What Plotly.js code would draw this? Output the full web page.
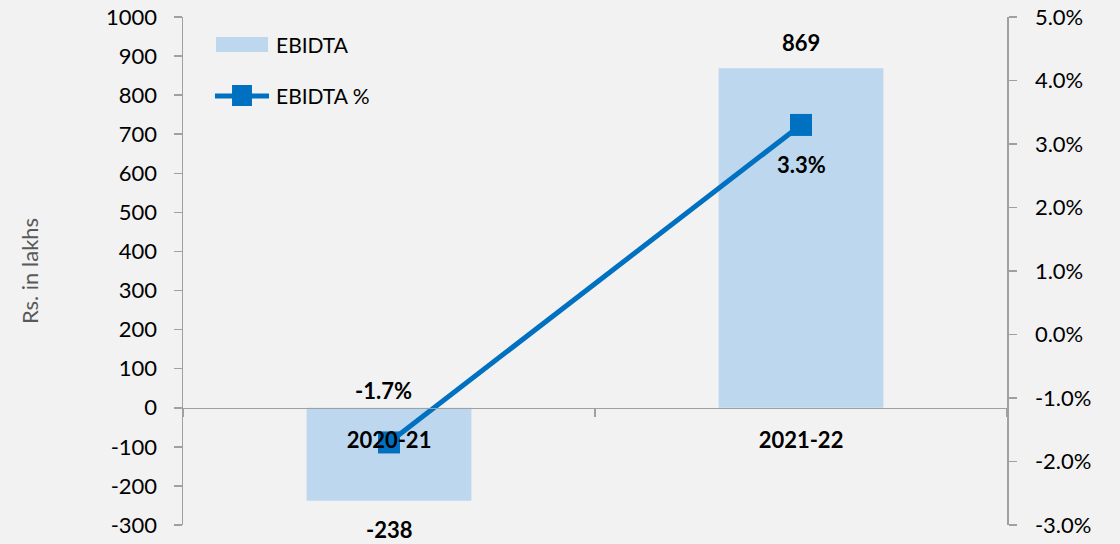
<!DOCTYPE html>
<html>
<head>
<meta charset="utf-8">
<script src="https://cdn.plot.ly/plotly-3.0.1.min.js"></script>
<style>
html,body{margin:0;padding:0;background:#F2F2F2;}
#chart{width:1120px;height:544px;}
</style>
</head>
<body>
<div id="chart"></div>
<script>
var categories = ["2020-21", "2021-22"];
var ebidta = [-238, 869];
var ebidtaPct = [-0.017, 0.033];
var ebidtaLabels = ["-238", "869"];
var pctLabels = ["-1.7%", "3.3%"];
var seriesNames = ["EBIDTA", "EBIDTA %"];
var leftTickVals = [-300, -200, -100, 0, 100, 200, 300, 400, 500, 600, 700, 800, 900, 1000];
var leftTickText = ["-300", "-200", "-100", "0", "100", "200", "300", "400", "500", "600", "700", "800", "900", "1000"];
var rightTickVals = [-0.03, -0.02, -0.01, 0, 0.01, 0.02, 0.03, 0.04, 0.05];
var rightTickText = ["-3.0%", "-2.0%", "-1.0%", "0.0%", "1.0%", "2.0%", "3.0%", "4.0%", "5.0%"];

var FONT = "Lato, 'Open Sans', sans-serif";
var axisGray = "#A0A0A0";

var barTrace = {
  type: "bar",
  x: categories,
  y: ebidta,
  name: seriesNames[0],
  width: 0.4,
  marker: {color: "#BDD7EE"},
  hoverinfo: "skip",
  showlegend: false
};
var lineTrace = {
  type: "scatter",
  mode: "lines+markers",
  x: categories,
  y: ebidtaPct,
  yaxis: "y2",
  name: seriesNames[1],
  line: {color: "#0070C0", width: 5},
  marker: {symbol: "square", size: 22, color: "#0070C0"},
  hoverinfo: "skip",
  showlegend: false
};

var annotations = [];
for (var i = 0; i < categories.length; i++) {
  annotations.push({
    x: categories[i], y: ebidta[i], xref: "x", yref: "y",
    text: ebidtaLabels[i], showarrow: false,
    yshift: ebidta[i] >= 0 ? 26 : -29,
    font: {family: FONT, size: 22, color: "#000", weight: "bold"}
  });
}
annotations.push({
  x: categories[0], y: ebidtaPct[0], xref: "x", yref: "y2",
  text: pctLabels[0], showarrow: false, yshift: 52, xshift: -6,
  font: {family: FONT, size: 22, color: "#000", weight: "bold"}
});
annotations.push({
  x: categories[1], y: ebidtaPct[1], xref: "x", yref: "y2",
  text: pctLabels[1], showarrow: false, yshift: -40,
  font: {family: FONT, size: 22, color: "#000", weight: "bold"}
});
// legend text
annotations.push({
  x: 0.1104, y: 0.9449, xref: "paper", yref: "paper", xanchor: "left", yanchor: "middle",
  text: seriesNames[0], showarrow: false,
  font: {family: FONT, size: 21, color: "#000"}
});
annotations.push({
  x: 0.1104, y: 0.8445, xref: "paper", yref: "paper", xanchor: "left", yanchor: "middle",
  text: seriesNames[1], showarrow: false,
  font: {family: FONT, size: 21, color: "#000"}
});

var shapes = [
  {type: "rect", xref: "paper", yref: "paper", x0: 0.0400, x1: 0.1032, y0: 0.9311, y1: 0.9606,
   fillcolor: "#BDD7EE", line: {width: 0}},
  {type: "line", xref: "paper", yref: "paper", x0: 0.0388, x1: 0.1044, y0: 0.8445, y1: 0.8445,
   line: {color: "#0070C0", width: 5}},
  {type: "rect", xref: "paper", yref: "paper", x0: 0.0595, x1: 0.0837, y0: 0.8248, y1: 0.8661,
   fillcolor: "#0070C0", line: {width: 0}}
];

var layout = {
  width: 1120, height: 544,
  paper_bgcolor: "#F2F2F2", plot_bgcolor: "#F2F2F2",
  margin: {l: 183, r: 113, t: 17, b: 19},
  showlegend: false,
  font: {family: FONT, size: 22, color: "#000"},
  xaxis: {
    type: "category", range: [-0.5, 1.5],
    anchor: "free", position: 3/13,
    showline: true, linecolor: axisGray, linewidth: 1.5,
    ticks: "outside", tickson: "boundaries", ticklen: 8, tickcolor: axisGray, tickwidth: 1.5,
    ticklabelstandoff: 12,
    showgrid: false, zeroline: false,
    tickfont: {family: FONT, size: 22, color: "#000", weight: "bold"},
    fixedrange: true
  },
  yaxis: {
    range: [-300, 1000], tickmode: "array", tickvals: leftTickVals, ticktext: leftTickText,
    showline: true, linecolor: axisGray, linewidth: 1.5,
    ticks: "outside", ticklen: 8, tickcolor: axisGray, tickwidth: 1.5,
    ticklabelstandoff: 12,
    showgrid: false, zeroline: false,
    tickfont: {family: FONT, size: 22, color: "#000"},
    title: {text: "Rs. in lakhs", font: {family: FONT, size: 22, color: "#595959"}, standoff: 61},
    fixedrange: true
  },
  yaxis2: {
    overlaying: "y", side: "right", anchor: "x",
    range: [-0.03, 0.05], tickmode: "array", tickvals: rightTickVals, ticktext: rightTickText,
    showline: true, linecolor: axisGray, linewidth: 1.5,
    ticks: "outside", ticklen: 8, tickcolor: axisGray, tickwidth: 1.5,
    ticklabelstandoff: 14,
    showgrid: false, zeroline: false,
    tickfont: {family: FONT, size: 22, color: "#000"},
    fixedrange: true
  },
  annotations: annotations,
  shapes: shapes
};

Plotly.newPlot("chart", [barTrace, lineTrace], layout, {staticPlot: true, displayModeBar: false});
</script>
</body>
</html>
